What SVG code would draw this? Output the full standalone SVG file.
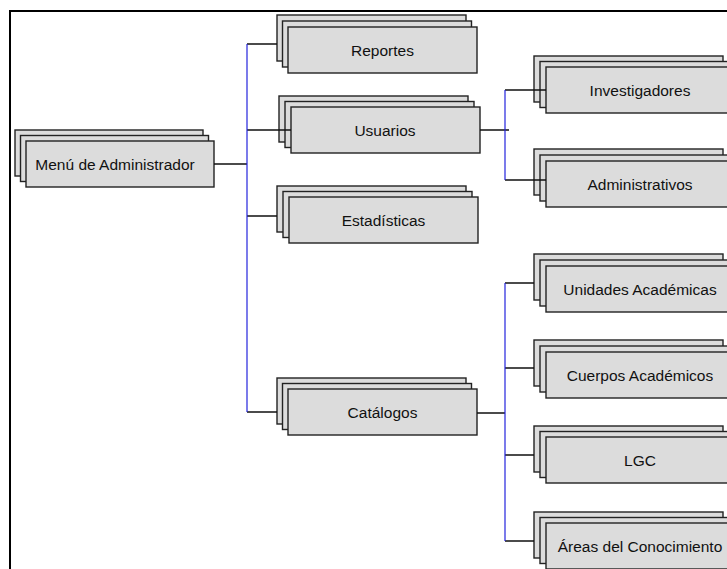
<svg xmlns="http://www.w3.org/2000/svg" width="727" height="569" viewBox="0 0 727 569">
<style>
.b{fill:#dcdcdc;stroke:#222;stroke-width:1.4}
.t{font-family:"Liberation Sans",Arial,sans-serif;font-size:15.5px;fill:#111;text-anchor:middle}
.c{stroke:#111;stroke-width:1.3;fill:none}
.v{stroke:#2222dd;stroke-width:1.2;fill:none}
</style>
<rect width="727" height="569" fill="#fff"/>
<path d="M10,569 V11 H727" fill="none" stroke="#000" stroke-width="2"/>
<g id="menu">
<rect class="b" x="15" y="130" width="188" height="46"/>
<rect class="b" x="20.5" y="135.5" width="188" height="46"/>
<rect class="b" x="26" y="141" width="188" height="46"/>
<text class="t" x="115" y="170">Menú de Administrador</text>
</g>
<g id="reportes">
<rect class="b" x="277" y="15" width="189" height="46"/>
<rect class="b" x="282.5" y="21" width="189" height="46"/>
<rect class="b" x="288" y="27" width="189" height="46"/>
<text class="t" x="382.5" y="55.5">Reportes</text>
</g>
<g id="usuarios">
<rect class="b" x="279" y="96" width="189" height="46"/>
<rect class="b" x="285" y="101.5" width="189" height="46"/>
<rect class="b" x="291" y="107" width="189" height="46"/>
<text class="t" x="385" y="135.5">Usuarios</text>
</g>
<g id="estadisticas">
<rect class="b" x="277" y="186" width="189" height="46"/>
<rect class="b" x="283" y="191.5" width="189" height="46"/>
<rect class="b" x="289" y="197" width="189" height="46"/>
<text class="t" x="383.5" y="225.5">Estadísticas</text>
</g>
<g id="catalogos">
<rect class="b" x="277" y="378" width="189" height="46"/>
<rect class="b" x="282.5" y="383.5" width="189" height="46"/>
<rect class="b" x="288" y="389" width="189" height="46"/>
<text class="t" x="382.5" y="417.5">Catálogos</text>
</g>
<g id="investigadores">
<rect class="b" x="534" y="56" width="189" height="46"/>
<rect class="b" x="540" y="61.5" width="189" height="46"/>
<rect class="b" x="546" y="67" width="189" height="46"/>
<text class="t" x="640" y="95.5">Investigadores</text>
</g>
<g id="administrativos">
<rect class="b" x="534" y="149" width="189" height="46"/>
<rect class="b" x="540" y="155" width="189" height="46"/>
<rect class="b" x="546" y="161" width="189" height="46"/>
<text class="t" x="640" y="189.5">Administrativos</text>
</g>
<g id="unidades">
<rect class="b" x="534" y="254" width="189" height="46"/>
<rect class="b" x="540" y="260" width="189" height="46"/>
<rect class="b" x="546" y="266" width="189" height="46"/>
<text class="t" x="640" y="294.5">Unidades Académicas</text>
</g>
<g id="cuerpos">
<rect class="b" x="534" y="340" width="189" height="46"/>
<rect class="b" x="540" y="346" width="189" height="46"/>
<rect class="b" x="546" y="352" width="189" height="46"/>
<text class="t" x="640" y="380.5">Cuerpos Académicos</text>
</g>
<g id="lgc">
<rect class="b" x="534" y="426" width="189" height="46"/>
<rect class="b" x="540" y="431.5" width="189" height="46"/>
<rect class="b" x="546" y="437" width="189" height="46"/>
<text class="t" x="640" y="465.5">LGC</text>
</g>
<g id="areas">
<rect class="b" x="534" y="512" width="189" height="46"/>
<rect class="b" x="540" y="517.5" width="189" height="46"/>
<rect class="b" x="546" y="523" width="189" height="46"/>
<text class="t" x="640" y="551.5">Áreas del Conocimiento</text>
</g>
<g id="connectors">
<path class="c" d="M214,164 H247 M247,44 H277 M247,130 H291 M247,216 H277 M247,412 H277"/>
<path class="v" d="M247,44 V412"/>
<path class="c" d="M480,130 H509 M505,90 H546 M505,180 H546"/>
<path class="v" d="M505,90 V180"/>
<path class="c" d="M477,413 H505 M505,283 H534 M505,368 H534 M505,455 H534 M505,541 H534"/>
<path class="v" d="M505,283 V541"/>
</g>
</svg>
